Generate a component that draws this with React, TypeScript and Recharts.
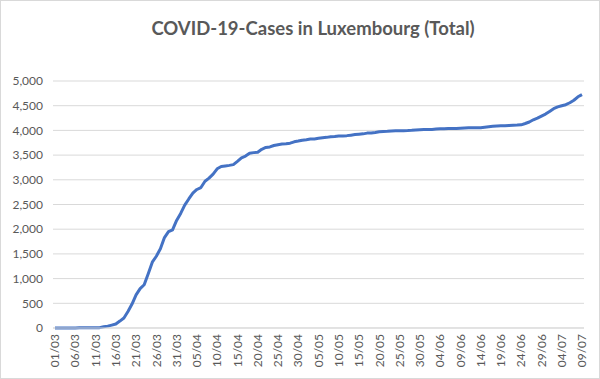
import React from 'react';
import { LineChart, Line, XAxis, YAxis, CartesianGrid } from 'recharts';

const days = [
  '01/03', '02/03', '03/03', '04/03', '05/03', '06/03', '07/03', '08/03', '09/03', '10/03',
  '11/03', '12/03', '13/03', '14/03', '15/03', '16/03', '17/03', '18/03', '19/03', '20/03',
  '21/03', '22/03', '23/03', '24/03', '25/03', '26/03', '27/03', '28/03', '29/03', '30/03',
  '31/03', '01/04', '02/04', '03/04', '04/04', '05/04', '06/04', '07/04', '08/04', '09/04',
  '10/04', '11/04', '12/04', '13/04', '14/04', '15/04', '16/04', '17/04', '18/04', '19/04',
  '20/04', '21/04', '22/04', '23/04', '24/04', '25/04', '26/04', '27/04', '28/04', '29/04',
  '30/04', '01/05', '02/05', '03/05', '04/05', '05/05', '06/05', '07/05', '08/05', '09/05',
  '10/05', '11/05', '12/05', '13/05', '14/05', '15/05', '16/05', '17/05', '18/05', '19/05',
  '20/05', '21/05', '22/05', '23/05', '24/05', '25/05', '26/05', '27/05', '28/05', '29/05',
  '30/05', '31/05', '01/06', '02/06', '03/06', '04/06', '05/06', '06/06', '07/06', '08/06',
  '09/06', '10/06', '11/06', '12/06', '13/06', '14/06', '15/06', '16/06', '17/06', '18/06',
  '19/06', '20/06', '21/06', '22/06', '23/06', '24/06', '25/06', '26/06', '27/06', '28/06',
  '29/06', '30/06', '01/07', '02/07', '03/07', '04/07', '05/07', '06/07', '07/07', '08/07',
  '09/07',
];

// total cases
const totals = [
  1, 1, 1, 1, 2, 2, 3, 3, 5, 5,
  7, 7, 26, 38, 59, 81, 140, 203, 335, 484,
  670, 798, 875, 1099, 1333, 1453, 1605, 1831, 1950, 1988,
  2178, 2319, 2487, 2612, 2729, 2804, 2843, 2970, 3034, 3115,
  3223, 3270, 3281, 3292, 3307, 3373, 3444, 3480, 3537, 3550,
  3558, 3618, 3654, 3665, 3695, 3711, 3723, 3729, 3741, 3769,
  3784, 3802, 3812, 3824, 3828, 3840, 3851, 3859, 3871, 3877,
  3886, 3888, 3894, 3904, 3915, 3923, 3930, 3945, 3947, 3958,
  3971, 3980, 3981, 3990, 3993, 3995, 3995, 3997, 4001, 4008,
  4012, 4016, 4018, 4020, 4027, 4032, 4035, 4039, 4040, 4040,
  4045, 4049, 4052, 4054, 4055, 4056, 4065, 4075, 4085, 4090,
  4093, 4093, 4100, 4104, 4107, 4113, 4140, 4170, 4215, 4250,
  4290, 4330, 4385, 4440, 4475, 4500, 4520, 4560, 4610, 4680,
  4725,
];

const yTicks = [0, 500, 1000, 1500, 2000, 2500, 3000, 3500, 4000, 4500, 5000];

const data = days.map((day, i) => ({ day, total: totals[i] }));

const font = 'Lato, "Open Sans", sans-serif';
const grey = '#595959';

function DateTick({ x, y, payload }: any) {
  return (
    <g transform={`translate(${x},${y})`}>
      <text
        transform="rotate(-90)"
        textAnchor="end"
        dy="0.35em"
        fill={grey}
        fontSize={12}
        fontFamily={font}
      >
        {payload.value}
      </text>
    </g>
  );
}

export default function App() {
  return (
    <div style={{ position: 'absolute', left: 0, top: 0, width: 600, height: 379, background: '#fff' }}>
      <div
        style={{
          position: 'absolute',
          left: 0,
          top: 0,
          width: 598,
          height: 377,
          border: '1px solid #d9d9d9',
        }}
      />
      <div
        style={{
          position: 'absolute',
          left: 0,
          top: 16,
          width: 626,
          textAlign: 'center',
          fontFamily: font,
          fontWeight: 700,
          fontSize: 18.5,
          color: grey,
          lineHeight: '24px',
        }}
      >
        COVID-19-Cases in Luxembourg (Total)
      </div>
      <div style={{ position: 'absolute', left: 0, top: 0 }}>
        <LineChart width={600} height={379} data={data} margin={{ top: 81, right: 16, bottom: 6, left: 0 }}>
          <CartesianGrid vertical={false} stroke="#d9d9d9" strokeWidth={1} />
          <XAxis
            dataKey="day"
            interval={4}
            tick={<DateTick />}
            tickLine={false}
            tickSize={4}
            height={45}
            padding={{ left: 2, right: 2 }}
            axisLine={{ stroke: '#d9d9d9' }}
          />
          <YAxis
            domain={[0, 5000]}
            ticks={yTicks}
            width={53}
            tickSize={0}
            tickMargin={10}
            axisLine={false}
            tickLine={false}
            tick={{ fill: grey, fontSize: 12, fontFamily: font }}
            tickFormatter={(v) => v.toLocaleString('en-US')}
          />
          <Line
            type="linear"
            dataKey="total"
            stroke="#4472c4"
            strokeWidth={3}
            dot={false}
            strokeLinejoin="round"
            isAnimationActive={false}
          />
        </LineChart>
      </div>
    </div>
  );
}
